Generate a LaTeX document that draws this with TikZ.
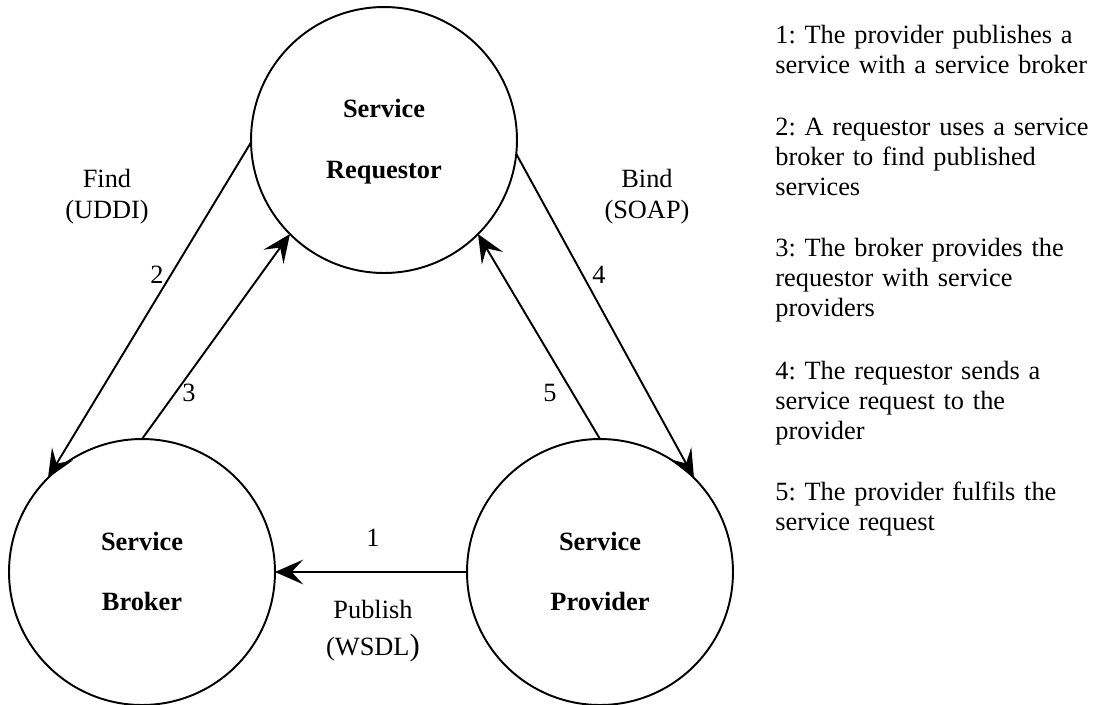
\documentclass[tikz,border=0pt]{standalone}
\usepackage{fontspec}
\setmainfont{Liberation Serif}
\frenchspacing
\usetikzlibrary{arrows.meta}
\begin{document}
\begin{tikzpicture}[x=0.02cm,y=-0.02cm,
  ent/.style={circle,draw,line width=1.1pt,minimum size=5.32cm,inner sep=0pt,outer sep=0pt},
  ttl/.style={font=\fontsize{15}{17}\selectfont\bfseries,anchor=base,inner sep=0pt},
  lbl/.style={font=\fontsize{15}{17}\selectfont,anchor=base,inner sep=0pt},
  num/.style={font=\fontsize{15}{17}\selectfont,anchor=center,inner sep=0pt},
  conn/.style={line width=1.1pt,-{Stealth[length=16pt,width=14pt,inset=6.5pt]}},
  note/.style={font=\fontsize{15}{17.2}\selectfont,anchor=base west,inner sep=0pt,text width=7cm,align=left}]
\useasboundingbox (0,0) rectangle (1093,704);
% entities
\node[ent] (req) at (384,140) {};
\node[ent] (brk) at (142,572) {};
\node[ent] (prv) at (600,572) {};
\node[ttl] (reqA) at (384,117) {Service};
\node[ttl] (reqB) at (384,178) {Requestor};
\node[ttl] (brkA) at (142,550) {Service};
\node[ttl] (brkB) at (142,610) {Broker};
\node[ttl] (prvA) at (600,550) {Service};
\node[ttl] (prvB) at (600,610) {Provider};
% connectors
\draw[conn] (req.181) -- (brk.135);
\draw[conn] (brk.90) -- (req.225);
\draw[conn] (req.-6) -- (prv.45);
\draw[conn] (prv.90) -- (req.315);
\draw[conn,line width=1.6pt] (prv.180) -- (brk.0);
% connector labels
\node[num] (n2) at (157,275) {2};
\node[num] (n3) at (189,393) {3};
\node[num] (n4) at (599,275) {4};
\node[num] (n5) at (550,393) {5};
\node[num] (n1) at (373,538) {1};
\node[lbl] (find) at (107,187) {Find};
\node[lbl] (uddi) at (107,218) {(UDDI)};
\node[lbl] (bind) at (647,187) {Bind};
\node[lbl] (soap) at (647,218) {(SOAP)};
\node[lbl] (pub) at (373,618) {Publish};
\node[lbl] (wsdl) at (373,655) {(WSDL{\fontsize{17.5}{17}\selectfont)}};
% notes
\node[note] (t1) at (775,43) {1: The provider publishes a\\service with a service broker};
\node[note] (t2) at (775,135) {2: A requestor uses a service\\broker to find published\\services};
\node[note] (t3) at (775,256) {3: The broker provides the\\requestor with service\\providers};
\node[note] (t4) at (775,379) {4: The requestor sends a\\service request to the\\provider};
\node[note] (t5) at (775,500) {5: The provider fulfils the\\service request};
\end{tikzpicture}
\end{document}
